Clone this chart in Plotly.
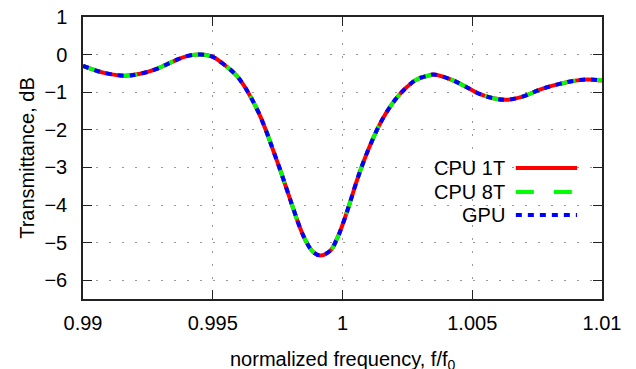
import plotly.graph_objects as go

# normalized frequency f/f0
freq = [0.99000, 0.99040, 0.99091, 0.99162, 0.99220, 0.99284, 0.99348, 0.99400,
        0.99451, 0.99496, 0.99541, 0.99592, 0.99618, 0.99644, 0.99676, 0.99708,
        0.99733, 0.99759, 0.99785, 0.99810, 0.99836, 0.99862, 0.99887, 0.99913,
        0.99952, 0.99978, 1.00003, 1.00029, 1.00055, 1.00080, 1.00106, 1.00138,
        1.00170, 1.00209, 1.00247, 1.00286, 1.00331, 1.00350, 1.00414, 1.00466,
        1.00530, 1.00581, 1.00633, 1.00697, 1.00761, 1.00825, 1.00889, 1.00941,
        1.01000]
# transmittance, dB (all three solvers give the same curve)
trans = [-0.30, -0.40, -0.50, -0.56, -0.51, -0.38, -0.18, -0.04,
         0.00, -0.05, -0.25, -0.56, -0.80, -1.10, -1.53, -2.07,
         -2.55, -3.05, -3.58, -4.09, -4.60, -5.00, -5.25, -5.34,
         -5.22, -4.91, -4.47, -3.93, -3.36, -2.87, -2.42, -1.93,
         -1.53, -1.15, -0.87, -0.66, -0.56, -0.53, -0.65, -0.82,
         -1.05, -1.16, -1.20, -1.11, -0.93, -0.80, -0.70, -0.66,
         -0.69]
cpu1t = trans
cpu8t = trans
gpu = trans

series_names = ["CPU 1T", "CPU 8T", "GPU"]
series_colors = ["#ff0000", "#00ff00", "#0000ff"]
series_dash = ["solid", "18px,20px", "6px,6px"]
series_vals = [cpu1t, cpu8t, gpu]

x_ticks = [0.99, 0.995, 1.0, 1.005, 1.01]
x_ticktext = ["0.99", "0.995", "1", "1.005", "1.01"]
y_ticks = [-6, -5, -4, -3, -2, -1, 0, 1]

FONT = "Liberation Sans, Arial, sans-serif"

fig = go.Figure()
for name, col, dash, vals in zip(series_names, series_colors, series_dash, series_vals):
    fig.add_trace(go.Scatter(x=freq, y=vals, mode="lines", name=name,
                             line=dict(color=col, width=4, dash=dash, shape="spline", smoothing=1.1),
                             showlegend=False))

# gnuplot-style legend: text, then line sample
leg_y = [0.4645, 0.379, 0.298]
for name, col, dash, ly in zip(series_names, series_colors, series_dash, leg_y):
    fig.add_annotation(x=0.817, y=ly, xref="paper", yref="paper", text=name,
                       showarrow=False, xanchor="right", yanchor="middle",
                       font=dict(family=FONT, size=20, color="#000"))
    fig.add_shape(type="line", xref="paper", yref="paper", x0=0.834, x1=0.952, y0=ly, y1=ly,
                  line=dict(color=col, width=4, dash=dash))

# x-axis title (placed as annotation to match position)
fig.add_annotation(x=0.5, y=-0.166, xref="paper", yref="paper",
                   text="normalized frequency, f/f<sub>0</sub>",
                   showarrow=False, xanchor="center", yanchor="top",
                   font=dict(family=FONT, size=20, color="#000"))

axis_common = dict(showline=True, linecolor="#222", linewidth=1.5, mirror="allticks",
                   ticks="inside", ticklen=9, tickcolor="#222", tickwidth=1,
                   showgrid=True, gridcolor="#999999", gridwidth=1, griddash="2px,11px",
                   zeroline=False, tickfont=dict(family=FONT, size=20, color="#000"))

fig.update_xaxes(range=[0.99, 1.01], tickvals=x_ticks, ticktext=x_ticktext,
                 ticklabelstandoff=5, **axis_common)
fig.update_yaxes(range=[-6.5, 1], tickvals=y_ticks,
                 ticklabelstandoff=10,
                 title=dict(text="Transmittance, dB",
                            font=dict(family=FONT, size=20, color="#000"), standoff=4),
                 **axis_common)

fig.update_layout(width=636, height=369, margin=dict(l=83, r=34, t=17, b=70, autoexpand=False),
                  paper_bgcolor="white", plot_bgcolor="white",
                  font=dict(family=FONT, size=20, color="#000"))

fig.write_html("out.html", config={"displayModeBar": False},
               post_script="document.body.style.margin='0';document.body.style.overflow='hidden';")
